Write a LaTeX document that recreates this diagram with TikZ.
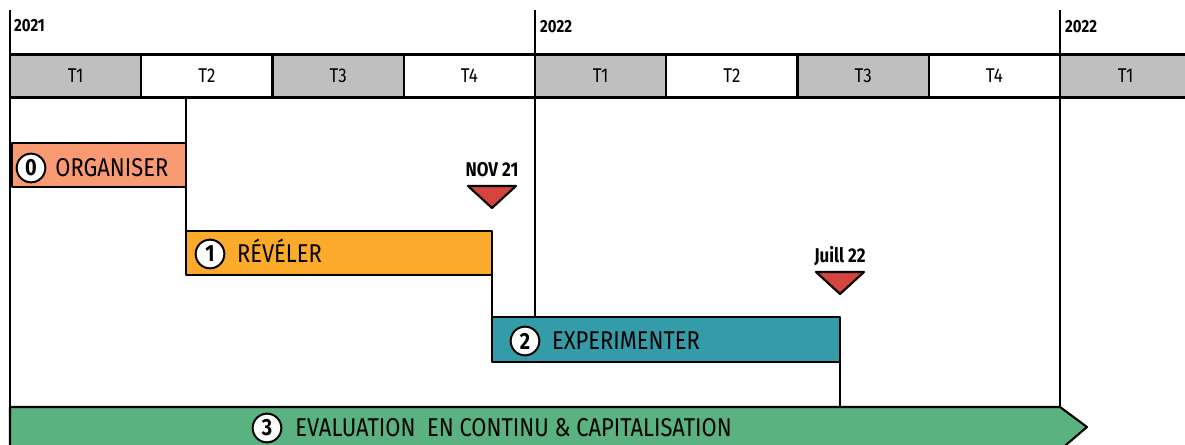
\documentclass[tikz,border=0pt]{standalone}
\usepackage{fontspec}
\setmainfont{Fira Sans}[FakeStretch=0.85]
\usepackage{tikz}
\usetikzlibrary{calc,positioning}

\definecolor{bandgray}{HTML}{BFBFBF}
\definecolor{orgsalmon}{HTML}{FA9A73}
\definecolor{revorange}{HTML}{FBAA2B}
\definecolor{expteal}{HTML}{349CA8}
\definecolor{evalgreen}{HTML}{5AB280}
\definecolor{markred}{HTML}{D6443E}

\tikzset{
  quarter/.style={draw, inner sep=0pt, outer sep=0pt, minimum width=39.375mm, minimum height=12.9mm, font=\fontsize{17}{17}\selectfont},
  yearlab/.style={anchor=west, inner sep=1pt, font=\bfseries\fontsize{15}{15}\selectfont},
  numdot/.style={circle, draw, fill=white, inner sep=0pt, minimum size=8.6mm, line width=1.7pt, font=\bfseries\fontsize{20}{20}\selectfont},
  phase/.style={anchor=west, inner sep=0pt, text height=15.2pt, text depth=0pt, font=\fontsize{22}{22}\selectfont},
  marklab/.style={inner sep=0pt, font=\bfseries\fontsize{17}{17}\selectfont},
}

\begin{document}
\begin{tikzpicture}[x=0.3mm, y=-0.3mm, line width=1.8pt, line join=round]
		\useasboundingbox (0,0) rectangle (1185,445);
		
		% 1. year ticks and bar corners
		\coordinate (Y1) at (10,10);
		\coordinate (Y2) at (535,10);
		\coordinate (Y3) at (1060,10);
		
		\coordinate (O1) at (12,143);  \coordinate (O2) at (186,187);
		\coordinate (R1) at (186,231); \coordinate (R2) at (492,275);
		\coordinate (E1) at (492,317); \coordinate (E2) at (840,362);
		\coordinate (G1) at (10,407);  \coordinate (G2) at (1060,407);
		
		% 2. year lines (drawn first, the band goes over them)
		\draw (Y1) -- (G1);
		\draw (Y2) -- (Y2 |- E1);
		\draw (Y3) -- (G2);
		
		\node[yearlab] (y21) at ($(Y1)+(2,16)$) {2021};
		\node[yearlab] (y22) at ($(Y2)+(3,17)$) {2022};
		\node[yearlab] (y23) at ($(Y3)+(3,17)$) {2022};
		
		% 3. quarter band
		\foreach \i/\lab/\col in {0/T1/bandgray, 1/T2/white, 2/T3/bandgray, 3/T4/white,
		                         4/T1/bandgray, 5/T2/white, 6/T3/bandgray, 7/T4/white, 8/T1/bandgray}
			\node[quarter, fill=\col] (q\i) at ({75.625+131.25*\i},76) {\lab};
		
		% 4. phase bars
		\draw[fill=orgsalmon] (O1) rectangle (O2);
		\draw[fill=revorange] (R1) rectangle (R2);
		\draw[fill=expteal] (E1) rectangle (E2);
		\draw[fill=evalgreen] (G1) -- (G2) -- (1087,427) -- (1060,450) -- (10,450) -- cycle;
		
		% 5. step lines between the bars
		\draw (q1.south -| O2) -- (R1 |- R2);
		\draw (R2 |- R1) -- (E1 |- E2);
		\draw (E2 |- E1) -- (E2 |- G1);
		
		% 6. milestones
		\coordinate (M1) at (492,186);
		\coordinate (M2) at (840,272);
		\foreach \m/\lab in {M1/NOV 21, M2/Juill 22} {
			\draw[fill=markred] ($(\m)+(-24,0)$) -- ($(\m)+(24,0)$) -- ($(\m)+(0,22)$) -- cycle;
			\node[marklab] (l\m) at ($(\m)+(0,-16)$) {\lab};
		}
		
		% 7. phase labels
		\node[numdot] (n0) at (31,168) {0};
		\node[phase, right=2.4mm of n0] (t0) {ORGANISER};
		\node[numdot] (n1) at (210,254) {1};
		\node[phase, right=3.2mm of n1] (t1) {RÉVÉLER};
		\node[numdot] (n2) at (525,341) {2};
		\node[phase, right=3.2mm of n2] (t2) {EXPERIMENTER};
		\node[numdot] (n3) at (267,428) {3};
		\node[phase, right=3.6mm of n3] (t3) {EVALUATION\ \ EN CONTINU \& CAPITALISATION};
		
	\end{tikzpicture}
\end{document}
